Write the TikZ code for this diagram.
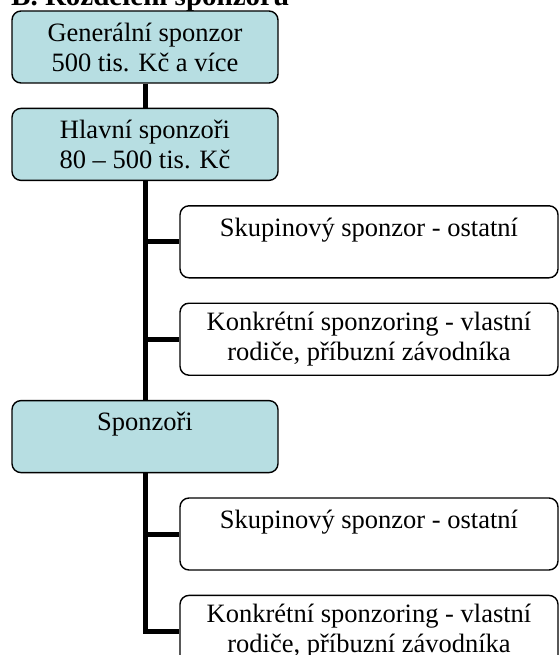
\documentclass[tikz,border=0pt]{standalone}
\usepackage{fontspec}
\setmainfont{Liberation Serif}
\usepackage{xcolor}
\usepackage{tikz}
\usetikzlibrary{positioning}
\definecolor{sponzteal}{RGB}{183,222,226}

\begin{document}
\begin{tikzpicture}[
    x=1pt, y=1pt,
    node distance=24pt,
    leadbox/.style={rectangle, draw=black, line width=1.4pt, fill=sponzteal, rounded corners=9pt, minimum width=266pt, minimum height=72pt, align=center, inner sep=0pt, font=\fontsize{26.5}{30}\selectfont},
    subbox/.style={leadbox, fill=white, minimum width=378pt},
    trunk/.style={line width=5pt},
    headline/.style={font=\fontsize{29}{34}\selectfont\bfseries, inner sep=0pt}
]
    \useasboundingbox (0,0) rectangle (559,-655);
    \clip (0,0) rectangle (559,-655);

    \node[headline, anchor=base west] (title) at (11,-6) {B. Rozdělení sponzorů};

    \node[leadbox] (gen) at (145,-47) {Generální sponzor\\500 tis. Kč a více};
    \node[leadbox, below=of gen] (hlavni) {Hlavní sponzoři\\80 – 500 tis. Kč};
    \node[subbox, below=of hlavni, xshift=224pt] (skup1) {Skupinový sponzor - ostatní\\~};
    \node[subbox, below=of skup1] (konkr1) {Konkrétní sponzoring - vlastní\\rodiče, příbuzní závodníka};
    \node[leadbox, below=of konkr1, xshift=-224pt] (sponz) {Sponzoři\\~};
    \node[subbox, below=of sponz, xshift=224pt] (skup2) {Skupinový sponzor - ostatní\\~};
    \node[subbox, below=of skup2] (konkr2) {Konkrétní sponzoring - vlastní\\rodiče, příbuzní závodníka};

    \draw[trunk] (gen) -- (hlavni);
    \draw[trunk] (hlavni) -- (sponz);
    \draw[trunk] (hlavni.south) |- (skup1.west);
    \draw[trunk] (hlavni.south) |- (konkr1.west);
    \draw[trunk] (sponz.south) |- (skup2.west);
    \draw[trunk] (sponz.south) |- (konkr2.west);
\end{tikzpicture}
\end{document}
